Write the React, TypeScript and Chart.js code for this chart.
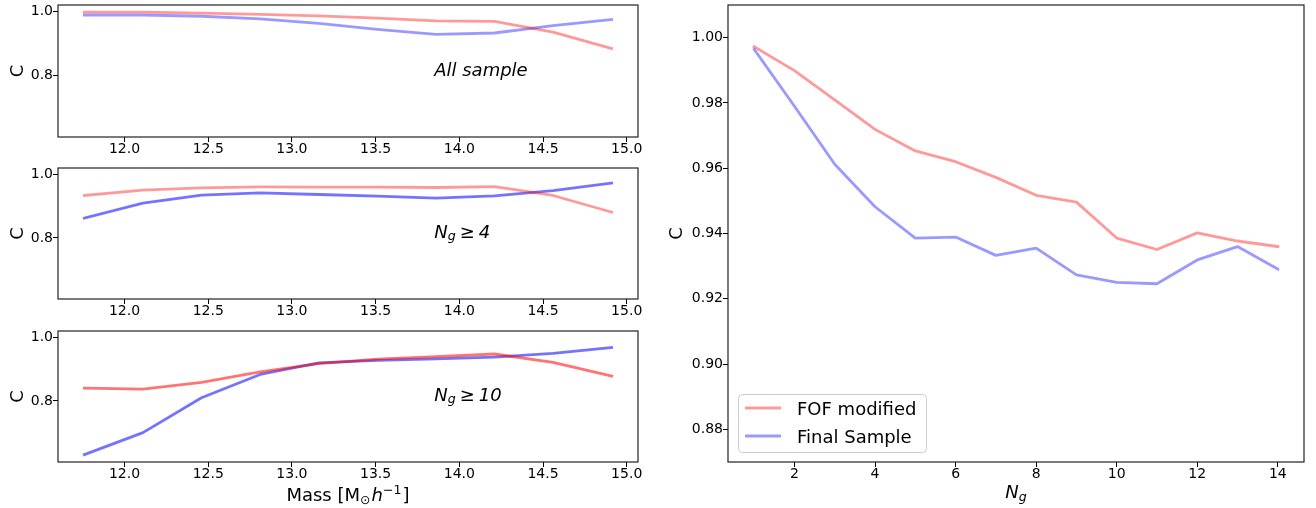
import React, { useEffect, useRef } from 'react';
import { Chart, registerables } from 'chart.js';

Chart.register(...registerables);

// ---------- data ----------
const massBins = [11.76, 12.11, 12.46, 12.81, 13.16, 13.51, 13.86, 14.21, 14.56, 14.91];
const massTicks = [12.0, 12.5, 13.0, 13.5, 14.0, 14.5, 15.0];
const cTicksLeft = [0.8, 1.0];

const fofAll = [0.997, 0.997, 0.994, 0.990, 0.985, 0.978, 0.970, 0.968, 0.935, 0.884];
const finalAll = [0.988, 0.988, 0.984, 0.976, 0.962, 0.943, 0.928, 0.932, 0.955, 0.974];
const fofNg4 = [0.933, 0.950, 0.957, 0.960, 0.959, 0.959, 0.958, 0.961, 0.933, 0.881];
const finalNg4 = [0.862, 0.909, 0.934, 0.941, 0.936, 0.931, 0.925, 0.932, 0.948, 0.972];
const fofNg10 = [0.840, 0.837, 0.858, 0.891, 0.917, 0.931, 0.939, 0.947, 0.921, 0.878];
const finalNg10 = [0.632, 0.701, 0.810, 0.883, 0.919, 0.927, 0.932, 0.937, 0.949, 0.967];

const ngValues = [1, 2, 3, 4, 5, 6, 7, 8, 9, 10, 11, 12, 13, 14];
const fofByNg = [0.9972, 0.9899, 0.9809, 0.9719, 0.9653, 0.962, 0.9572, 0.9517, 0.9496, 0.9386, 0.9351, 0.9402, 0.9377, 0.936];
const finalByNg = [0.9964, 0.979, 0.9612, 0.9482, 0.9386, 0.9389, 0.9333, 0.9355, 0.9273, 0.925, 0.9246, 0.9319, 0.936, 0.9291];
const ngTicks = [2, 4, 6, 8, 10, 12, 14];
const cTicksRight = [0.88, 0.9, 0.92, 0.94, 0.96, 0.98, 1.0];

const seriesNames = ['FOF modified', 'Final Sample'];
const panelThresholds: (number | null)[] = [null, 4, 10];
const allSampleText = 'All sample';
const yTitle = 'C';

// ---------- styling helpers ----------
const FONT = 'DejaVu Sans';
Chart.defaults.font.family = FONT;

const red = (a: number) => `rgba(255,0,0,${a})`;
const blue = (a: number) => `rgba(0,0,255,${a})`;

type Run = { text: string; size: number; italic?: boolean; dy?: number; gap?: number };

function fontOf(r: Run) {
  return `${r.italic ? 'italic ' : ''}${r.size}px "${FONT}"`;
}

function drawRuns(ctx: CanvasRenderingContext2D, runs: Run[], x: number, y: number, align: 'left' | 'center') {
  ctx.save();
  ctx.fillStyle = '#000';
  ctx.textAlign = 'left';
  ctx.textBaseline = 'alphabetic';
  let total = 0;
  for (const r of runs) {
    ctx.font = fontOf(r);
    total += ctx.measureText(r.text).width + (r.gap || 0);
  }
  let cx = align === 'center' ? x - total / 2 : x;
  for (const r of runs) {
    ctx.font = fontOf(r);
    cx += r.gap || 0;
    ctx.fillText(r.text, cx, y + (r.dy || 0));
    cx += ctx.measureText(r.text).width;
  }
  ctx.restore();
}

function drawRotated(ctx: CanvasRenderingContext2D, text: string, x: number, y: number, size: number) {
  ctx.save();
  ctx.translate(x, y);
  ctx.rotate(-Math.PI / 2);
  ctx.font = `${size}px "${FONT}"`;
  ctx.fillStyle = '#000';
  ctx.textAlign = 'center';
  ctx.textBaseline = 'alphabetic';
  ctx.fillText(text, 0, 0);
  ctx.restore();
}

function ngRuns(size: number): Run[] {
  return [
    { text: 'N', size, italic: true },
    { text: 'g', size: size * 0.7, italic: true, dy: size * 0.14 },
  ];
}

function withMargin(vals: number[]) {
  const lo = Math.min(...vals);
  const hi = Math.max(...vals);
  const m = (hi - lo) * 0.05;
  return [lo - m, hi + m];
}

type PanelSpec = {
  xs: number[];
  series: { label: string; data: number[]; color: string }[];
  xRange: number[];
  yRange: number[];
  xTicks: number[];
  yTicks: number[];
  xFmt: (v: number) => string;
  yFmt: (v: number) => string;
  pad: { top: number; right: number };
  yWidth: number;
  xHeight: number;
  deco: (chart: any) => void;
};

function makeConfig(p: PanelSpec): any {
  const tickFont = { family: FONT, size: 14 };
  const grid = {
    display: true,
    drawOnChartArea: false,
    drawTicks: true,
    tickLength: 5,
    tickColor: '#000',
    tickWidth: 1,
  };
  return {
    type: 'line',
    data: {
      datasets: p.series.map((s) => ({
        label: s.label,
        data: p.xs.map((x, i) => ({ x, y: s.data[i] })),
        borderColor: s.color,
        backgroundColor: s.color,
        borderWidth: 2.8,
        pointRadius: 0,
        pointHoverRadius: 0,
        fill: false,
        tension: 0,
        borderJoinStyle: 'round',
        borderCapStyle: 'square',
      })),
    },
    options: {
      responsive: false,
      maintainAspectRatio: false,
      animation: false,
      devicePixelRatio: 1,
      events: [],
      layout: { padding: { left: 0, top: p.pad.top, right: p.pad.right, bottom: 0 } },
      plugins: { legend: { display: false }, tooltip: { enabled: false }, title: { display: false } },
      scales: {
        x: {
          type: 'linear',
          min: p.xRange[0],
          max: p.xRange[1],
          afterBuildTicks: (ax: any) => {
            ax.ticks = p.xTicks.map((v) => ({ value: v }));
          },
          afterFit: (s: any) => {
            s.height = p.xHeight;
            s.paddingLeft = 0;
            s.paddingRight = 0;
            s.paddingTop = 0;
            s.paddingBottom = 0;
          },
          ticks: {
            font: tickFont,
            color: '#000',
            padding: -1.3,
            autoSkip: false,
            maxRotation: 0,
            minRotation: 0,
            callback: (v: any) => p.xFmt(Number(v)),
          },
          grid,
          border: { display: false },
        },
        y: {
          type: 'linear',
          min: p.yRange[0],
          max: p.yRange[1],
          afterBuildTicks: (ax: any) => {
            ax.ticks = p.yTicks.map((v) => ({ value: v }));
          },
          afterFit: (s: any) => {
            s.width = p.yWidth;
            s.paddingLeft = 0;
            s.paddingRight = 0;
            s.paddingTop = 0;
            s.paddingBottom = 0;
          },
          ticks: {
            font: tickFont,
            color: '#000',
            padding: 0,
            autoSkip: false,
            callback: (v: any) => p.yFmt(Number(v)),
          },
          grid,
          border: { display: false },
        },
      },
    },
    plugins: [
      {
        id: 'frameAndText',
        afterDraw(chart: any) {
          const ctx = chart.ctx as CanvasRenderingContext2D;
          const ca = chart.chartArea;
          ctx.save();
          ctx.strokeStyle = '#222';
          ctx.lineWidth = 1.2;
          ctx.strokeRect(ca.left, ca.top, ca.right - ca.left, ca.bottom - ca.top);
          ctx.restore();
          p.deco(chart);
        },
      },
    ],
  };
}

function ChartCanvas({ left, top, width, height, spec }: { left: number; top: number; width: number; height: number; spec: PanelSpec }) {
  const ref = useRef<HTMLCanvasElement | null>(null);
  useEffect(() => {
    const chart = new Chart(ref.current as HTMLCanvasElement, makeConfig(spec));
    return () => chart.destroy();
  }, []);
  return (
    <canvas
      ref={ref}
      width={width}
      height={height}
      style={{ position: 'absolute', left, top, width, height, display: 'block' }}
    />
  );
}

const leftPairs = [
  [fofAll, finalAll],
  [fofNg4, finalNg4],
  [fofNg10, finalNg10],
];
const leftAlphas = [
  [0.4, 0.4],
  [0.4, 0.55],
  [0.55, 0.55],
];

const massRange = withMargin(massBins);
const leftYRange = [0.609, 1.019];
const ngRange = withMargin(ngValues);
const rightYRange = [0.87, 1.01];

function leftSpec(i: number, xHeight: number, padTop: number): PanelSpec {
  const [fof, fin] = leftPairs[i];
  return {
    xs: massBins,
    series: [
      { label: seriesNames[0], data: fof, color: red(leftAlphas[i][0]) },
      { label: seriesNames[1], data: fin, color: blue(leftAlphas[i][1]) },
    ],
    xRange: massRange,
    yRange: leftYRange,
    xTicks: massTicks,
    yTicks: cTicksLeft,
    xFmt: (v) => v.toFixed(1),
    yFmt: (v) => v.toFixed(1),
    pad: { top: padTop, right: 22 },
    yWidth: 58,
    xHeight,
    deco: (chart) => {
      const ctx = chart.ctx as CanvasRenderingContext2D;
      const ca = chart.chartArea;
      const xs = chart.scales.x;
      const ys = chart.scales.y;
      drawRotated(ctx, yTitle, 23, (ca.top + ca.bottom) / 2, 18);
      const tx = xs.getPixelForValue(13.85);
      const ty = ys.getPixelForValue(0.8);
      const th = panelThresholds[i];
      if (th === null) {
        drawRuns(ctx, [{ text: allSampleText, size: 18, italic: true }], tx, ty, 'left');
      } else {
        drawRuns(
          ctx,
          [...ngRuns(18), { text: '≥', size: 18, gap: 4 }, { text: String(th), size: 18, italic: true, gap: 4 }],
          tx,
          ty,
          'left'
        );
      }
      if (i === 2) {
        const cx = (ca.left + ca.right) / 2;
        drawRuns(
          ctx,
          [
            { text: 'Mass [M', size: 18 },
            { text: '⊙', size: 12.6, dy: 3 },
            { text: 'h', size: 18, italic: true, gap: 1 },
            { text: '−1', size: 12.6, dy: -7.5 },
            { text: ']', size: 18, gap: 1 },
          ],
          cx,
          ca.bottom + 39,
          'center'
        );
      }
    },
  };
}

const rightSpec: PanelSpec = {
  xs: ngValues,
  series: [
    { label: seriesNames[0], data: fofByNg, color: red(0.4) },
    { label: seriesNames[1], data: finalByNg, color: blue(0.4) },
  ],
  xRange: ngRange,
  yRange: rightYRange,
  xTicks: ngTicks,
  yTicks: cTicksRight,
  xFmt: (v) => String(v),
  yFmt: (v) => v.toFixed(2),
  pad: { top: 5, right: 12 },
  yWidth: 68,
  xHeight: 46,
  deco: (chart) => {
    const ctx = chart.ctx as CanvasRenderingContext2D;
    const ca = chart.chartArea;
    drawRotated(ctx, yTitle, 22, (ca.top + ca.bottom) / 2, 18);
    drawRuns(ctx, ngRuns(18), (ca.left + ca.right) / 2, ca.bottom + 36, 'center');
    // legend
    const bx = ca.left + 10;
    const bw = 188;
    const bh = 58;
    const by = ca.bottom - 10 - bh;
    ctx.save();
    ctx.beginPath();
    (ctx as any).roundRect(bx + 0.5, by + 0.5, bw, bh, 4);
    ctx.fillStyle = 'rgba(255,255,255,0.8)';
    ctx.fill();
    ctx.strokeStyle = '#cccccc';
    ctx.lineWidth = 1;
    ctx.stroke();
    chart.data.datasets.forEach((ds: any, k: number) => {
      const ly = by + 14 + k * 28;
      ctx.beginPath();
      ctx.moveTo(bx + 7, ly);
      ctx.lineTo(bx + 43, ly);
      ctx.strokeStyle = ds.borderColor;
      ctx.lineWidth = 2.8;
      ctx.stroke();
      drawRuns(ctx, [{ text: ds.label, size: 18 }], bx + 59, ly + 7, 'left');
    });
    ctx.restore();
  },
};

export default function App() {
  return (
    <div style={{ position: 'absolute', left: 0, top: 0, width: 1316, height: 508, background: '#fff', overflow: 'hidden' }}>
      <ChartCanvas left={0} top={0} width={660} height={160} spec={leftSpec(0, 23, 5)} />
      <ChartCanvas left={0} top={160} width={660} height={163} spec={leftSpec(1, 24, 8)} />
      <ChartCanvas left={0} top={323} width={660} height={185} spec={leftSpec(2, 46, 8)} />
      <ChartCanvas left={660} top={0} width={656} height={508} spec={rightSpec} />
    </div>
  );
}
